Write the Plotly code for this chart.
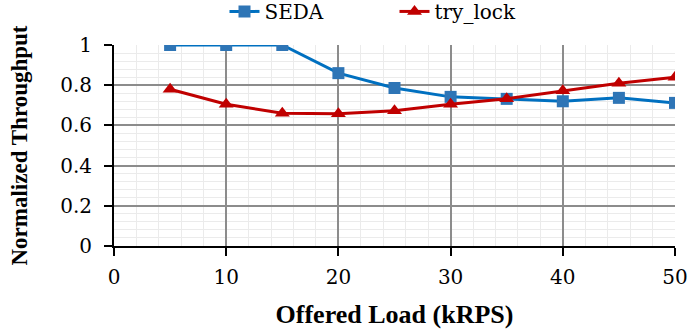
import plotly.graph_objects as go

# Offered load (kRPS) and normalized throughput per scheme
load = [5, 10, 15, 20, 25, 30, 35, 40, 45, 50]
seda = [1.0, 1.0, 1.0, 0.86, 0.786, 0.742, 0.732, 0.72, 0.737, 0.712]
try_lock = [0.78, 0.705, 0.66, 0.658, 0.673, 0.705, 0.733, 0.773, 0.81, 0.84]

BOLD = "Liberation Serif"
REG = "DejaVu Serif"

fig = go.Figure()
fig.add_trace(go.Scatter(
    x=load, y=seda, name="SEDA", mode="lines+markers",
    line=dict(color="#0070C0", width=3),
    marker=dict(symbol="square", size=12, color="#2E75B6"),
))
fig.add_trace(go.Scatter(
    x=load, y=try_lock, name="try_lock", mode="lines+markers",
    line=dict(color="#C00000", width=3),
    marker=dict(symbol="triangle-up", size=13, color="#C00000"),
))

fig.update_layout(
    width=692, height=329,
    margin=dict(l=114, r=17, t=45, b=83, autoexpand=False),
    paper_bgcolor="white", plot_bgcolor="white",
    font=dict(family=REG, color="black", size=20, weight="normal"),
    legend=dict(orientation="h", x=0.5, xanchor="center", y=1.07, yanchor="bottom",
                font=dict(family=REG, size=20, color="black", weight="normal"), itemwidth=30,
                entrywidth=125, bgcolor="rgba(0,0,0,0)"),
    showlegend=True,
)

fig.update_xaxes(
    range=[0, 50], dtick=10, tick0=0,
    showline=True, linecolor="black", linewidth=2,
    ticks="outside", ticklen=8, tickwidth=2, tickcolor="black",
    ticklabelstandoff=4,
    showgrid=True, gridcolor="#8c8c8c", gridwidth=1.5,
    minor=dict(dtick=2, showgrid=True, gridcolor="#ebebeb", gridwidth=1),
    zeroline=False,
    tickfont=dict(family=REG, size=20, color="black", weight="normal"),
    title=dict(text="<b>Offered Load (kRPS)</b>", font=dict(family=BOLD, size=26, color="black"), standoff=18),
)
fig.update_yaxes(
    range=[0, 1], dtick=0.2, tick0=0,
    showline=True, linecolor="black", linewidth=2,
    ticks="outside", ticklen=8, tickwidth=2, tickcolor="black",
    ticklabelstandoff=8,
    showgrid=True, gridcolor="#8c8c8c", gridwidth=1.5,
    minor=dict(dtick=0.04, showgrid=True, gridcolor="#ebebeb", gridwidth=1),
    zeroline=False,
    tickfont=dict(family=REG, size=20, color="black", weight="normal"),
    tickformat="~g",
    title=dict(text="<b>Normalized Throughput</b>", font=dict(family=BOLD, size=23, color="black"), standoff=26),
)

fig.write_html("out.html")
